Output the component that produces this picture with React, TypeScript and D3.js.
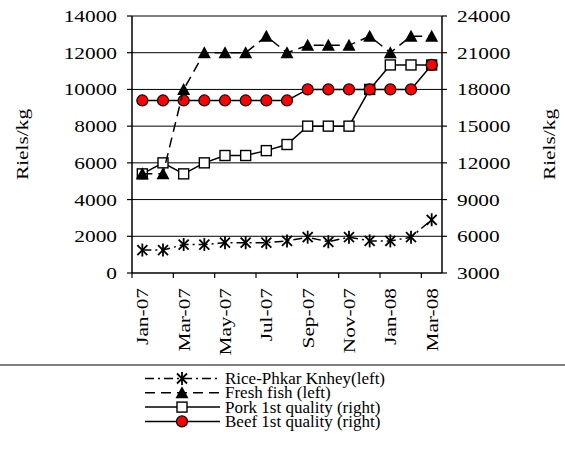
import React from "react";
import * as d3 from "d3";

const months = ["Jan-07","Feb-07","Mar-07","Apr-07","May-07","Jun-07","Jul-07","Aug-07","Sep-07","Oct-07","Nov-07","Dec-07","Jan-08","Feb-08","Mar-08"];
const rice = [1250,1250,1550,1550,1650,1650,1650,1750,1950,1700,1950,1750,1750,1950,2900];
const fish = [5400,5400,10000,12000,12000,12000,12900,12000,12400,12400,12400,12900,12000,12900,12900];
const pork = [11100,12000,11100,12000,12600,12600,13000,13500,15000,15000,15000,18000,20000,20000,20000];
const beef = [17100,17100,17100,17100,17100,17100,17100,17100,18000,18000,18000,18000,18000,18000,20000];
const leftTicks = [0,2000,4000,6000,8000,10000,12000,14000];
const rightTicks = [3000,6000,9000,12000,15000,18000,21000,24000];
const legendLabels = ["Rice-Phkar Knhey(left)","Fresh fish (left)","Pork 1st quality (right)","Beef 1st quality (right)"];
const yTitle = "Riels/kg";

const W = 565, H = 451;
const X0 = 132, X1 = 442, Y0 = 273, Y1 = 16;
const FS = 17.5, SX = 1.22;
const FONT = "'Liberation Serif', 'Times New Roman', serif";

function T({ x, y, rot = 0, anchor = "start", sx = SX, fs = FS, children }: any) {
  return (
    <text transform={`translate(${x},${y}) rotate(${rot}) scale(${sx},1)`} textAnchor={anchor}
      fontSize={fs} fontFamily={FONT} fill="#000">{children}</text>
  );
}

function Marker({ kind, x, y }: any) {
  if (kind === "star") {
    return (
      <g stroke="#000" strokeWidth={1.8}>
        <line x1={x - 5} y1={y - 5} x2={x + 5} y2={y + 5} />
        <line x1={x - 5} y1={y + 5} x2={x + 5} y2={y - 5} />
        <line x1={x} y1={y - 6.5} x2={x} y2={y + 6.5} />
      </g>
    );
  }
  if (kind === "tri") {
    return <path d={`M${x},${y - 6.5}L${x + 6.5},${y + 5.5}L${x - 6.5},${y + 5.5}Z`} fill="#000" />;
  }
  if (kind === "sq") {
    return <rect x={x - 5} y={y - 5} width={10} height={10} fill="#fff" stroke="#000" strokeWidth={1.4} />;
  }
  return <circle cx={x} cy={y} r={5.5} fill="#ff0000" stroke="#000" strokeWidth={1.2} />;
}

export default function App() {
  const xb = d3.scaleBand<string>().domain(months).range([X0, X1]);
  const bw = xb.bandwidth();
  const cx = (i: number) => (xb(months[i]) as number) + bw / 2;
  const yL = d3.scaleLinear().domain([0, 14000]).range([Y0, Y1]);
  const yR = d3.scaleLinear().domain([3000, 24000]).range([Y0, Y1]);

  const series = [
    { key: "pork", data: pork, y: yR, dash: undefined, marker: "sq" },
    { key: "beef", data: beef, y: yR, dash: undefined, marker: "circ" },
    { key: "rice", data: rice, y: yL, dash: "9,4,2,4", marker: "star" },
    { key: "fish", data: fish, y: yL, dash: "10,6", marker: "tri" },
  ];
  const legend = [
    { label: legendLabels[0], dash: "9,4,2,4", marker: "star" },
    { label: legendLabels[1], dash: "10,6", marker: "tri" },
    { label: legendLabels[2], dash: undefined, marker: "sq" },
    { label: legendLabels[3], dash: undefined, marker: "circ" },
  ];

  const line = (data: number[], y: any) =>
    d3.line<number>().x((_, i) => cx(i)).y((d) => y(d))(data) as string;

  return (
    <svg width={W} height={H} style={{ position: "absolute", left: 0, top: 0, background: "#fff" }}>
      <rect width={W} height={H} fill="#fff" />
      {leftTicks.slice(1).map((t) => (
        <line key={t} x1={X0} x2={X1} y1={yL(t)} y2={yL(t)} stroke="#000" strokeWidth={1} />
      ))}
      <line x1={X0} x2={X0} y1={Y1} y2={Y0} stroke="#000" strokeWidth={1.5} />
      <line x1={X1} x2={X1} y1={Y1} y2={Y0} stroke="#000" strokeWidth={1.5} />
      <line x1={X0} x2={X1} y1={Y0} y2={Y0} stroke="#000" strokeWidth={1.5} />
      {leftTicks.map((t) => (
        <g key={"l" + t}>
          <line x1={X0 - 5} x2={X0} y1={yL(t)} y2={yL(t)} stroke="#000" strokeWidth={1.2} />
          <T x={117} y={yL(t) + 6} anchor="end">{t}</T>
        </g>
      ))}
      {rightTicks.map((t) => (
        <g key={"r" + t}>
          <line x1={X1} x2={X1 + 5} y1={yR(t)} y2={yR(t)} stroke="#000" strokeWidth={1.2} />
          <T x={457} y={yR(t) + 6}>{t}</T>
        </g>
      ))}
      {months.map((m, i) =>
        i % 2 === 0 ? (
          <g key={m}>
            <line x1={xb(m) as number} x2={xb(m) as number} y1={Y0} y2={Y0 + 5} stroke="#000" strokeWidth={1.2} />
            <T x={cx(i) + 6} y={288} rot={-90} anchor="end">{m}</T>
          </g>
        ) : null
      )}
      <T x={28} y={(Y0 + Y1) / 2} rot={-90} anchor="middle">{yTitle}</T>
      <T x={555} y={(Y0 + Y1) / 2} rot={-90} anchor="middle">{yTitle}</T>
      {series.map((s) => (
        <g key={s.key}>
          <path d={line(s.data, s.y)} fill="none" stroke="#000" strokeWidth={1.5} strokeDasharray={s.dash} />
          {s.data.map((d, i) => (
            <Marker key={i} kind={s.marker} x={cx(i)} y={s.y(d)} />
          ))}
        </g>
      ))}
      <line x1={0} x2={W} y1={365} y2={365} stroke="#000" strokeWidth={1.2} />
      {legend.map((l, i) => {
        const y = 378.5 + i * 14.3;
        return (
          <g key={l.label}>
            <line x1={145} x2={220} y1={y} y2={y} stroke="#000" strokeWidth={1.5} strokeDasharray={l.dash} />
            <Marker kind={l.marker} x={182} y={y} />
            <T x={225} y={y + 5.5} sx={1} fs={17}>{l.label}</T>
          </g>
        );
      })}
    </svg>
  );
}
